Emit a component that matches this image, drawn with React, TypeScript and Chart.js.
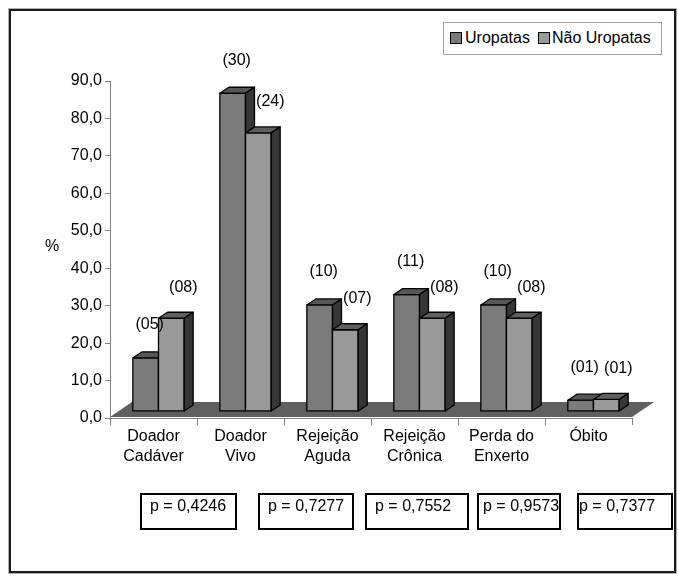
import React, { useEffect, useRef } from "react";
import { Chart, registerables } from "chart.js";
Chart.register(...registerables);

const categories: string[][] = [
  ["Doador", "Cadáver"],
  ["Doador", "Vivo"],
  ["Rejeição", "Aguda"],
  ["Rejeição", "Crônica"],
  ["Perda do", "Enxerto"],
  ["Óbito"],
];
const seriesNames = ["Uropatas", "Não Uropatas"];
const uropatas = [14.3, 85.7, 28.6, 31.4, 28.6, 2.9];
const naoUropatas = [25.0, 75.0, 21.9, 25.0, 25.0, 3.1];
const uropatasCounts = ["(05)", "(30)", "(10)", "(11)", "(10)", "(01)"];
const naoUropatasCounts = ["(08)", "(24)", "(07)", "(08)", "(08)", "(01)"];
const pValues = ["p = 0,4246", "p = 0,7277", "p = 0,7552", "p = 0,9573", "p = 0,7377"];
const yMin = 0;
const yMax = 90;
const yStep = 10;

const FONT = '"Liberation Sans", Arial, sans-serif';
const FACES = [
  { front: "#7b7b7b", top: "#575757", side: "#363636" },
  { front: "#999999", top: "#5f5f5f", side: "#363636" },
];
const FLOOR = "#5f5f5f";
const FLOOR_D = { x: 22, y: -15 };
const BAR_D = { x: 9, y: -6 };
const BAR_SHIFT = 5;

const pBoxes = [
  { left: 140, width: 97, pad: 8 },
  { left: 258, width: 96, pad: 8 },
  { left: 365, width: 104, pad: 8 },
  { left: 477, width: 84, pad: 4 },
  { left: 577, width: 96, pad: 0 },
];

function drawBox(ctx: CanvasRenderingContext2D, el: any, f: any) {
  const p = el.getProps(["x", "y", "base", "width"], true);
  const x0 = p.x - p.width / 2 + BAR_SHIFT;
  const x1 = p.x + p.width / 2 + BAR_SHIFT;
  const top = p.y;
  const bot = p.base;
  ctx.lineWidth = 1.3;
  ctx.strokeStyle = "#000";
  ctx.lineJoin = "round";
  ctx.fillStyle = f.front;
  ctx.beginPath();
  ctx.rect(x0, top, x1 - x0, bot - top);
  ctx.fill();
  ctx.stroke();
  ctx.fillStyle = f.top;
  ctx.beginPath();
  ctx.moveTo(x0, top);
  ctx.lineTo(x1, top);
  ctx.lineTo(x1 + BAR_D.x, top + BAR_D.y);
  ctx.lineTo(x0 + BAR_D.x, top + BAR_D.y);
  ctx.closePath();
  ctx.fill();
  ctx.stroke();
  ctx.fillStyle = f.side;
  ctx.beginPath();
  ctx.moveTo(x1, top);
  ctx.lineTo(x1 + BAR_D.x, top + BAR_D.y);
  ctx.lineTo(x1 + BAR_D.x, bot + BAR_D.y);
  ctx.lineTo(x1, bot);
  ctx.closePath();
  ctx.fill();
  ctx.stroke();
  return { x0, x1, top, cx: (x0 + x1) / 2 };
}

const threeD = {
  id: "threeD",
  beforeDatasetsDraw(chart: any) {
    const { ctx, chartArea: a } = chart;
    ctx.save();
    ctx.fillStyle = FLOOR;
    ctx.beginPath();
    ctx.moveTo(a.left, a.bottom - 1);
    ctx.lineTo(a.right, a.bottom - 1);
    ctx.lineTo(a.right + FLOOR_D.x, a.bottom - 1 + FLOOR_D.y);
    ctx.lineTo(a.left + FLOOR_D.x, a.bottom - 1 + FLOOR_D.y);
    ctx.closePath();
    ctx.fill();
    ctx.restore();
  },
  afterDatasetsDraw(chart: any) {
    const ctx: CanvasRenderingContext2D = chart.ctx;
    const m0 = chart.getDatasetMeta(0);
    const m1 = chart.getDatasetMeta(1);
    ctx.save();
    const labels: { t: string; x: number; y: number }[] = [];
    for (let i = 0; i < categories.length; i++) {
      const a = drawBox(ctx, m0.data[i], FACES[0]);
      const b = drawBox(ctx, m1.data[i], FACES[1]);
      labels.push({ t: uropatasCounts[i], x: a.cx + 4, y: a.top - 33 });
      labels.push({ t: naoUropatasCounts[i], x: b.cx + 12, y: b.top - 31 });
    }
    ctx.fillStyle = "#000";
    ctx.font = `16px ${FONT}`;
    ctx.textAlign = "center";
    ctx.textBaseline = "middle";
    labels.forEach((l) => ctx.fillText(l.t, l.x, l.y));
    ctx.restore();
  },
};

export default function App() {
  const ref = useRef<HTMLCanvasElement>(null);
  useEffect(() => {
    if (!ref.current) return;
    const chart = new Chart(ref.current, {
      type: "bar",
      data: {
        labels: categories,
        datasets: [
          {
            label: seriesNames[0],
            data: uropatas,
            yAxisID: "yb",
            backgroundColor: "rgba(0,0,0,0)",
            borderWidth: 0,
          },
          {
            label: seriesNames[1],
            data: naoUropatas,
            yAxisID: "yb",
            backgroundColor: "rgba(0,0,0,0)",
            borderWidth: 0,
          },
        ],
      },
      options: {
        animation: false,
        responsive: false,
        devicePixelRatio: 1,
        layout: { padding: { left: 0, top: 81, right: 46, bottom: 104 } },
        plugins: { legend: { display: false }, tooltip: { enabled: false } },
        datasets: { bar: { categoryPercentage: 0.59, barPercentage: 1 } },
        scales: {
          x: {
            grid: { offset: true, drawOnChartArea: false, tickLength: 7, color: "#808080" },
            border: { color: "#808080" },
            ticks: {
              color: "#000",
              font: { family: FONT, size: 16, lineHeight: 1.25 },
              padding: 2,
              maxRotation: 0,
              autoSkip: false,
            },
            afterFit: (s: any) => {
              s.height = 60;
            },
          },
          y: {
            min: yMin,
            max: yMax,
            grid: { drawOnChartArea: false, tickLength: 5, color: "#808080" },
            border: { color: "#808080" },
            ticks: {
              stepSize: yStep,
              color: "#000",
              padding: 3,
              font: { family: FONT, size: 16 },
              callback: (v: any) => Number(v).toFixed(1).replace(".", ","),
            },
            afterFit: (s: any) => {
              s.width = 110;
            },
          },
          yb: {
            type: "linear",
            display: false,
            min: -1.9,
            max: 89.0,
          },
        },
      },
      plugins: [threeD],
    });
    return () => chart.destroy();
  }, []);

  const text: React.CSSProperties = { fontFamily: FONT, fontSize: 16, color: "#000", position: "absolute", whiteSpace: "nowrap" };

  return (
    <div style={{ position: "fixed", left: 0, top: 0, width: 678, height: 582, background: "#fff", overflow: "hidden" }}>
      <div
        style={{
          position: "absolute",
          left: 9,
          top: 9,
          width: 663,
          height: 560,
          border: "2px solid #1a1a1a",
          outline: "1px solid #b0b0b0",
        }}
      />
      <canvas ref={ref} width={678} height={582} style={{ position: "absolute", left: 0, top: 0 }} />
      <div
        style={{
          position: "absolute",
          left: 443,
          top: 22,
          width: 217,
          height: 31,
          border: "1px solid #a0a0a0",
          background: "#fff",
        }}
      >
        {seriesNames.map((n, i) => (
          <React.Fragment key={n}>
            <div
              style={{
                position: "absolute",
                left: i === 0 ? 6 : 94,
                top: 9,
                width: 10,
                height: 10,
                background: FACES[i].front,
                border: "1px solid #000",
              }}
            />
            <div style={{ ...text, left: i === 0 ? 21 : 108, top: 5, lineHeight: "20px" }}>{n}</div>
          </React.Fragment>
        ))}
      </div>
      <div style={{ ...text, left: 45, top: 236, lineHeight: "20px" }}>%</div>
      {pValues.map((p, i) => (
        <div
          key={p}
          style={{
            position: "absolute",
            left: pBoxes[i].left,
            top: 493,
            width: pBoxes[i].width - 4,
            height: 33,
            border: "2px solid #000",
            boxSizing: "content-box",
          }}
        >
          <div style={{ ...text, left: pBoxes[i].pad, top: 1, lineHeight: "20px" }}>{p}</div>
        </div>
      ))}
    </div>
  );
}
